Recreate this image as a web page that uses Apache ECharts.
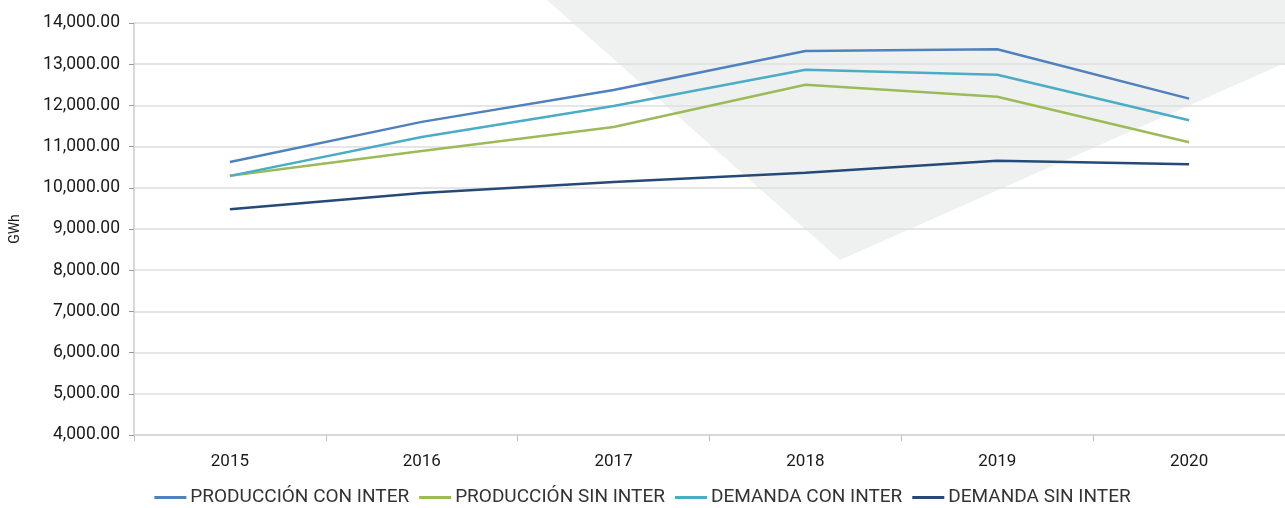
<!DOCTYPE html>
<html>
<head>
<meta charset="utf-8">
<script src="https://cdn.jsdelivr.net/npm/echarts@6/dist/echarts.min.js"></script>
<style>
  html, body { margin: 0; padding: 0; background: #fff; }
  #chart { width: 1285px; height: 508px; }
</style>
</head>
<body>
<div id="chart"></div>
<script>
const years = ['2015', '2016', '2017', '2018', '2019', '2020']

const produccionConInter = [10626, 11600, 12375, 13320, 13362, 12165]
const produccionSinInter = [10290, 10893, 11476, 12503, 12211, 11104]
const demandaConInter = [10290, 11233, 11985, 12867, 12745, 11638]
const demandaSinInter = [9478, 9874, 10141, 10367, 10658, 10570]

const seriesNames = ['PRODUCCIÓN CON INTER', 'PRODUCCIÓN SIN INTER', 'DEMANDA CON INTER', 'DEMANDA SIN INTER']
const seriesColors = ['#4f81bd', '#9bbb59', '#4bacc6', '#264a77']
const seriesData = [produccionConInter, produccionSinInter, demandaConInter, demandaSinInter]

const fmt = v => v.toLocaleString('en-US', { minimumFractionDigits: 2, maximumFractionDigits: 2 })

const chart = echarts.init(document.getElementById('chart'))

chart.setOption({
  animation: false,
  textStyle: { fontFamily: 'Roboto' },
  // gray decorative shape behind the lines
  graphic: [{
    type: 'polygon',
    z: -10,
    silent: true,
    shape: { points: [[547, 0], [1285, 0], [1285, 63], [840, 260]] },
    style: { fill: '#eff1f0' }
  }],
  grid: { left: 133, right: -5, top: 23, bottom: 73, containLabel: false },
  legend: {
    bottom: -4,
    left: 'center',
    icon: 'rect',
    itemWidth: 32,
    itemHeight: 3,
    itemGap: 10,
    textStyle: { fontSize: 19, color: '#333', fontFamily: 'Roboto', padding: [0, 0, 0, -1] },
    data: seriesNames
  },
  xAxis: {
    type: 'category',
    data: years,
    axisLine: { lineStyle: { color: '#d9d9d9', width: 2 } },
    axisTick: { show: true, length: 6, lineStyle: { color: '#bfbfbf' } },
    axisLabel: { fontSize: 17, color: '#1a1a1a', margin: 18 }
  },
  yAxis: {
    type: 'value',
    min: 4000,
    max: 14000,
    interval: 1000,
    name: 'GWh',
    nameLocation: 'middle',
    nameRotate: 90,
    nameGap: 112,
    nameTextStyle: { fontSize: 14, color: '#1a1a1a' },
    axisLine: { show: true, lineStyle: { color: '#d9d9d9', width: 2 } },
    axisTick: { show: true, length: 5, lineStyle: { color: '#999' } },
    axisLabel: { fontSize: 17.5, color: '#1a1a1a', margin: 14, formatter: fmt },
    splitLine: { lineStyle: { color: '#dedede', width: 1.5 } }
  },
  series: seriesNames.map((name, i) => ({
    name: name,
    type: 'line',
    symbol: 'none',
    z: 3,
    data: seriesData[i],
    itemStyle: { color: seriesColors[i] },
    lineStyle: { color: seriesColors[i], width: 2.5 }
  }))
})
</script>
</body>
</html>
